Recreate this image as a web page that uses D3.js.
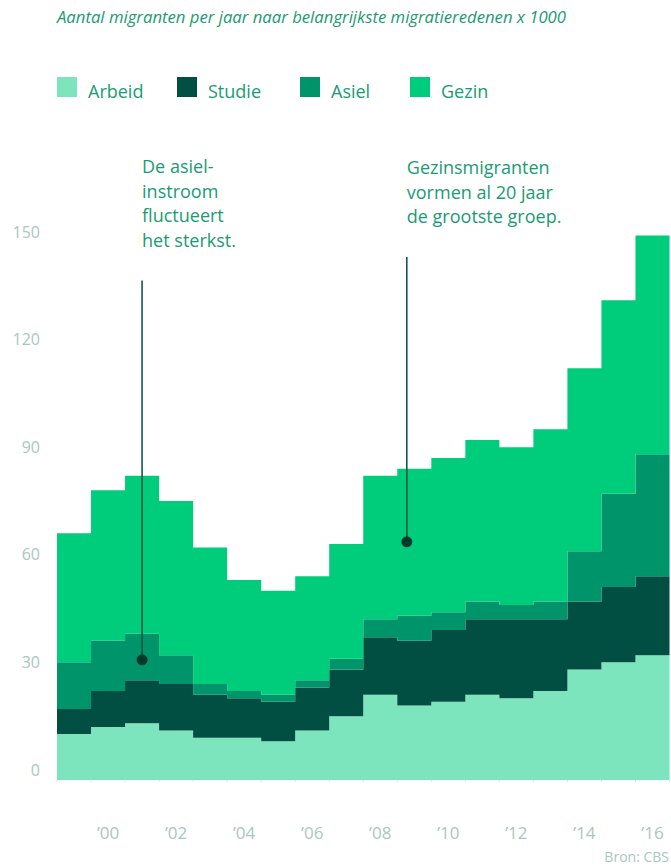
<!DOCTYPE html>
<html>
<head>
<meta charset="utf-8">
<script src="https://cdn.jsdelivr.net/npm/d3@7"></script>
<style>
  html, body { margin: 0; padding: 0; background: #fff; }
  svg { display: block; }
  text { font-family: "Open Sans", "Noto Sans", sans-serif; }
</style>
</head>
<body>
<svg id="chart" width="671" height="868"></svg>
<script>
// ---- Data (x 1000 migrants per year) ----
const years  = [1999,2000,2001,2002,2003,2004,2005,2006,2007,2008,2009,2010,2011,2012,2013,2014,2015,2016];
const arbeid = [10,12,13,11, 9, 9, 8,11,15,21,18,19,21,20,22,28,30,32];
const studie = [ 7,10,12,13,12,11,11,12,13,16,18,20,21,22,20,19,21,22];
const asiel  = [13,14,13, 8, 3, 2, 2, 2, 3, 5, 7, 5, 5, 4, 5,14,26,34];
const gezin  = [36,42,44,43,38,31,29,29,32,40,41,43,45,44,48,51,54,61];
const seriesNames = ["Arbeid","Studie","Asiel","Gezin"];
const seriesColors = ["#7de5bd","#004f42","#00946b","#00cd7b"];
const yTicks = [0,30,60,90,120,150];
const xTickYears = [2000,2002,2004,2006,2008,2010,2012,2014,2016];
const xTickLabels = ["\u201900","\u201902","\u201904","\u201906","\u201908","\u201910","\u201912","\u201914","\u201916"];
const title = "Aantal migranten per jaar naar belangrijkste migratieredenen x 1000";
const annotations = [
  { year: 2001.5, value: 30.7, topValue: 136.5, lines: ["De asiel-","instroom","fluctueert","het sterkst."] },
  { year: 2009.28, value: 63.6, topValue: 143, lines: ["Gezinsmigranten","vormen al 20 jaar","de grootste groep."] }
];
const source = "Bron: CBS";

// ---- Build ----
const svg = d3.select("#chart");
const textColor = "#1a9b73";
const axisColor = "#a9c7bf";

const x = d3.scaleLinear().domain([1999, 2017]).range([57, 669.5]);
const y = d3.scaleLinear().domain([-2.8, 150]).range([780, 232]);

const rows = years.map((yr, i) => ({ year: yr, Arbeid: arbeid[i], Studie: studie[i], Asiel: asiel[i], Gezin: gezin[i] }));
// extra point closing the last step
rows.push(Object.assign({}, rows[rows.length - 1], { year: years[years.length - 1] + 1 }));

const stacked = d3.stack().keys(seriesNames)(rows);
const area = d3.area()
  .curve(d3.curveStepAfter)
  .x(d => x(d.data.year))
  .y0(d => d[0] === 0 ? y(y.domain()[0]) : y(d[0]))
  .y1(d => y(d[1]));

svg.append("g").selectAll("path")
  .data(stacked)
  .join("path")
  .attr("d", area)
  .attr("fill", (d, i) => seriesColors[i]);

// small ticks along baseline
svg.append("g").selectAll("line")
  .data(years.concat([2017]))
  .join("line")
  .attr("x1", d => x(d)).attr("x2", d => x(d))
  .attr("y1", y(y.domain()[0])).attr("y2", y(y.domain()[0]) + 2)
  .attr("stroke", "#c9ece0").attr("stroke-width", 1);

// Y axis labels
svg.append("g").selectAll("text")
  .data(yTicks)
  .join("text")
  .attr("x", 40)
  .attr("y", d => y(d))
  .attr("dy", "0.35em")
  .attr("text-anchor", "end")
  .attr("font-size", 16)
  .attr("fill", axisColor)
  .text(d => d);

// X axis labels
svg.append("g").selectAll("text")
  .data(xTickYears)
  .join("text")
  .attr("x", d => x(d + 0.5))
  .attr("y", 839)
  .attr("text-anchor", "middle")
  .attr("font-size", 17)
  .attr("fill", axisColor)
  .text((d, i) => xTickLabels[i]);

// Title
svg.append("text")
  .attr("x", 57).attr("y", 23)
  .attr("font-size", 16)
  .attr("font-style", "italic")
  .attr("fill", textColor)
  .attr("textLength", 509)
  .attr("lengthAdjust", "spacingAndGlyphs")
  .text(title);

// Legend
const legendX = [57, 177, 300, 410];
const lg = svg.append("g").selectAll("g")
  .data(seriesNames)
  .join("g")
  .attr("transform", (d, i) => `translate(${legendX[i]},77)`);
lg.append("rect").attr("width", 20).attr("height", 20).attr("fill", (d, i) => seriesColors[i]);
lg.append("text").attr("x", 31).attr("y", 20.5).attr("font-size", 18).attr("fill", textColor).text(d => d);

// Annotations
annotations.forEach(a => {
  const ax = x(a.year);
  const g = svg.append("g");
  g.append("line")
    .attr("x1", ax).attr("x2", ax)
    .attr("y1", y(a.value))
    .attr("y2", y(a.topValue))
    .attr("stroke", "#00503f").attr("stroke-width", 1.5);
  g.append("circle").attr("cx", ax).attr("cy", y(a.value)).attr("r", 5.5).attr("fill", "#003a2b");
  g.append("text")
    .attr("x", ax)
    .attr("font-size", 18)
    .attr("fill", textColor)
    .selectAll("tspan")
    .data(a.lines)
    .join("tspan")
    .attr("x", ax)
    .attr("y", (d, i) => a.lines.length === 4 ? 173 + i * 24.5 : 174 + i * 24.5)
    .text(d => d);
});

// Source
svg.append("text")
  .attr("x", 669).attr("y", 862)
  .attr("text-anchor", "end")
  .attr("font-size", 14)
  .attr("fill", axisColor)
  .text(source);
</script>
</body>
</html>
